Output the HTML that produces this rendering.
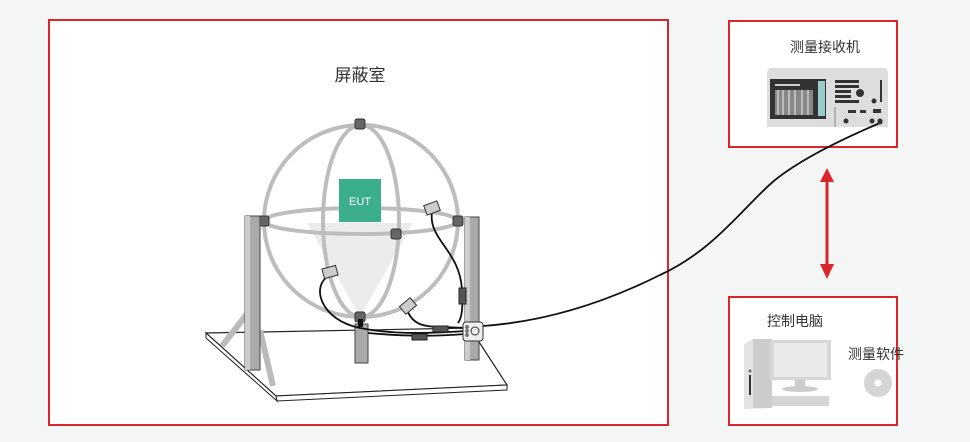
<!DOCTYPE html>
<html><head><meta charset="utf-8"><style>
html,body{margin:0;padding:0;background:#f4f6f6;}
svg{display:block}
text{font-family:"Liberation Sans","Noto Sans CJK SC",sans-serif;}
</style></head><body>
<svg width="970" height="442" viewBox="0 0 970 442" xmlns="http://www.w3.org/2000/svg">
<rect width="970" height="442" fill="#f4f6f6"/>
<!-- main room -->
<rect x="49" y="20" width="619" height="405" fill="#fff" stroke="#d9262c" stroke-width="2"/>
<text x="360" y="81" font-size="17" text-anchor="middle" fill="#333">屏蔽室</text>
<!-- receiver box -->
<rect x="729" y="21" width="168" height="126" fill="#fff" stroke="#d9262c" stroke-width="2"/>
<text x="825" y="52" font-size="14" text-anchor="middle" fill="#333">测量接收机</text>
<polygon points="769,68 886,68 888,72 888,127 767,127 767,72" fill="#ddd"/>
<rect x="770" y="79" width="56" height="40" fill="#333"/>
<rect x="775" y="90" width="38" height="25" fill="#888"/>
<g stroke="#ccc" stroke-width="1.5"><line x1="778" y1="90" x2="778" y2="115"/><line x1="783" y1="90" x2="783" y2="115"/><line x1="789" y1="90" x2="789" y2="115"/><line x1="795" y1="90" x2="795" y2="115"/><line x1="802" y1="90" x2="802" y2="115"/><line x1="808" y1="90" x2="808" y2="115"/></g>
<rect x="775" y="84" width="25" height="2" fill="#ccc"/>
<rect x="818" y="81" width="7" height="35" fill="#9cc"/>
<g fill="#333"><rect x="835" y="80" width="24" height="3"/><rect x="835" y="85" width="24" height="3"/><rect x="835" y="90" width="16" height="3"/><rect x="835" y="95" width="16" height="3"/><rect x="835" y="100" width="24" height="3"/>
<circle cx="860" cy="93" r="4"/><circle cx="874" cy="101" r="2.5"/><rect x="880" y="80" width="2" height="22"/>
<circle cx="846" cy="121" r="2.5"/><circle cx="872" cy="121" r="2.5"/><circle cx="880" cy="121" r="2.5"/>
<rect x="848" y="110" width="8" height="3"/><rect x="860" y="110" width="6" height="3"/><rect x="873" y="109" width="8" height="4"/></g>
<line x1="835" y1="107" x2="835" y2="127" stroke="#888"/>
<!-- platform -->
<polygon points="206,333 470,328 507,385 276,396" fill="#fff" stroke="#222" stroke-width="1.2"/>
<polygon points="206,333 276,396 277,401 206,338" fill="#fff" stroke="#222" stroke-width="1"/>
<polygon points="276,396 507,385 507,390 277,401" fill="#fff" stroke="#222" stroke-width="1"/>
<!-- legs -->
<line x1="222" y1="346" x2="247" y2="314" stroke="#bbb" stroke-width="6"/>
<line x1="260" y1="330" x2="273" y2="386" stroke="#bbb" stroke-width="6"/>
<!-- cone -->
<polygon points="307,223 413,223 360,317" fill="#ececec"/>
<!-- sphere -->
<g fill="none" stroke="#bdbdbd" stroke-width="4">
<ellipse cx="361" cy="221" rx="97" ry="96"/>
<ellipse cx="361" cy="221" rx="38" ry="96"/>
<ellipse cx="361" cy="221" rx="97" ry="13"/>
</g>
<!-- EUT -->
<rect x="339" y="179" width="42" height="43" fill="#3bae8c"/>
<text x="360" y="205" font-size="11" text-anchor="middle" fill="#fff">EUT</text>
<!-- nodes -->
<g fill="#666" stroke="#333" stroke-width="1">
<rect x="355" y="119" width="10" height="10" rx="2"/>
<rect x="259" y="216" width="10" height="10" rx="2"/>
<rect x="453" y="216" width="10" height="10" rx="2"/>
<rect x="391" y="229" width="10" height="10" rx="2"/>
<rect x="355" y="312" width="10" height="10" rx="2"/>
</g>
<!-- pillars -->
<rect x="245" y="216" width="15" height="154" fill="#aaa" stroke="#444" stroke-width="1"/>
<rect x="245" y="216" width="5" height="154" fill="#ccc"/>
<rect x="465" y="217" width="14" height="143" fill="#aaa" stroke="#444" stroke-width="1"/>
<rect x="465" y="217" width="5" height="143" fill="#ccc"/>
<rect x="355" y="324" width="13" height="39" fill="#aaa" stroke="#444" stroke-width="1"/>
<rect x="358" y="319" width="5" height="8" fill="#111"/>
<!-- cables -->
<g fill="none" stroke="#111" stroke-width="1.8">
<path d="M880,123 C840,140 800,160 775,180 C745,205 715,250 660,275 C600,305 540,322 483,326"/>
<path d="M432,212 C428,240 460,250 462,290 C463,305 462,318 458,323"/>
<path d="M330,275 C310,285 320,320 360,328 C390,334 420,334 465,331"/>
<path d="M407,310 C415,330 430,326 465,328"/>
<path d="M368,333 C400,336 430,337 465,334"/>
</g>
<circle cx="880" cy="122" r="2.5" fill="#333"/>
<rect x="459" y="288" width="7" height="16" fill="#555" stroke="#222"/>
<rect x="433" y="326" width="15" height="6" fill="#555" stroke="#222"/>
<rect x="412" y="334" width="15" height="6" fill="#555" stroke="#222"/>
<!-- antennas -->
<g fill="#ccc" stroke="#333" stroke-width="1">
<rect x="-7" y="-5" width="14" height="10" transform="translate(432,208) rotate(-20)"/>
<rect x="-7" y="-5" width="14" height="10" transform="translate(330,272) rotate(-15)"/>
<rect x="-7" y="-5" width="14" height="10" transform="translate(408,306) rotate(-40)"/>
</g>
<!-- hub -->
<rect x="463" y="322" width="20" height="19" rx="3" fill="#eee" stroke="#333"/>
<circle cx="475" cy="331" r="4" fill="none" stroke="#333"/>
<circle cx="467" cy="327" r="1.2" fill="none" stroke="#333"/>
<circle cx="467" cy="331" r="1.2" fill="none" stroke="#333"/>
<circle cx="467" cy="335" r="1.2" fill="none" stroke="#333"/>

<!-- arrow -->
<line x1="827" y1="178" x2="827" y2="268" stroke="#d9262c" stroke-width="3"/>
<polygon points="820,182 827,168 834,182" fill="#d9262c"/>
<polygon points="820,264 827,279 834,264" fill="#d9262c"/>

<!-- PC box -->
<rect x="729" y="297" width="168" height="128" fill="#fff" stroke="#d9262c" stroke-width="2"/>
<text x="795" y="326" font-size="14" text-anchor="middle" fill="#333">控制电脑</text>
<text x="876" y="359" font-size="14" text-anchor="middle" fill="#333">测量软件</text>
<polygon points="744,344 753,339 772,339 772,408 744,409" fill="#e3e3e3"/>
<polygon points="753,339 772,339 772,408 753,408" fill="#ccc"/>
<circle cx="750" cy="371" r="1.5" fill="#666"/><rect x="749" y="375" width="2" height="20" fill="#333"/>
<rect x="770" y="340" width="61" height="40" fill="#d7d7d7"/>
<rect x="774" y="343" width="53" height="34" fill="#eaeaea"/>
<rect x="795" y="380" width="10" height="7" fill="#ccc"/>
<ellipse cx="800" cy="389" rx="18" ry="3" fill="#ccc"/>
<rect x="772" y="396" width="57" height="10" fill="#d5d5d5"/>
<circle cx="878" cy="383" r="14" fill="#d5d5d5"/>
<circle cx="878" cy="383" r="3.5" fill="#fff"/>
</svg>
</body></html>
